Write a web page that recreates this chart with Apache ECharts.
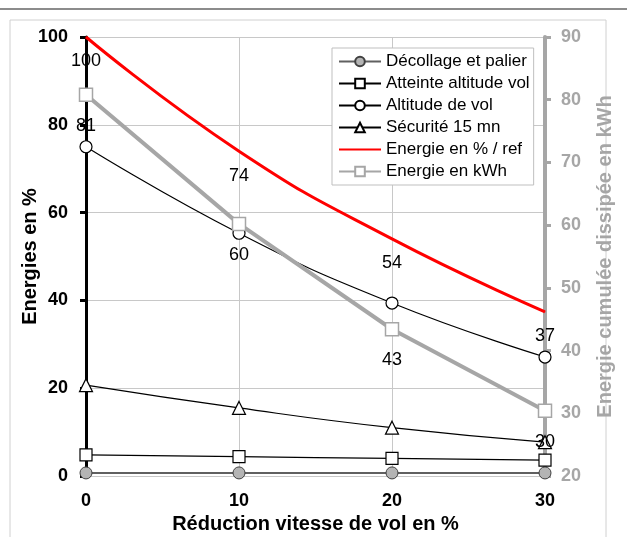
<!DOCTYPE html>
<html>
<head>
<meta charset="utf-8">
<script src="https://cdn.jsdelivr.net/npm/echarts@6/dist/echarts.min.js"></script>
<style>html,body{margin:0;padding:0;background:#fff;}#c{width:627px;height:537px;}</style>
</head>
<body>
<div id="c"></div>
<script>
const reductions = [0, 10, 20, 30];
const decollage = [0.7, 0.7, 0.7, 0.7];
const atteinte = [4.8, 4.4, 4.0, 3.6];
const altitude = [75.0, 55.3, 39.4, 27.1];
const securite = [20.7, 15.5, 11.0, 7.7];
const energiePct = [100, 74, 54, 37.4];
const energieKwh = [80.8, 60.2, 43.4, 30.4];
const leftTicks = [0, 20, 40, 60, 80, 100];
const rightTicks = [20, 30, 40, 50, 60, 70, 80, 90];

const pairs = arr => reductions.map((x, i) => [x, arr[i]]);
const FONT = 'Liberation Sans, Arial, sans-serif';
const GRAY = '#a6a6a6';

const chart = echarts.init(document.getElementById('c'));
chart.setOption({
  animation: false,
  backgroundColor: '#fff',
  textStyle: { fontFamily: FONT },
  graphic: [
    { type: 'rect', shape: { x: 0, y: 8, width: 627, height: 2 }, style: { fill: '#8c8c8c' }, silent: true },
    { type: 'rect', shape: { x: 10, y: 20, width: 596, height: 530 }, style: { fill: 'none', stroke: '#d0d0d0', lineWidth: 1 }, silent: true, z: -1 }
  ],
  grid: { left: 86, right: 82, top: 37, bottom: 61, containLabel: false, outerBoundsMode: 'none' },
  legend: {
    orient: 'vertical',
    left: 332, top: 48,
    backgroundColor: '#fff',
    borderColor: '#bfbfbf', borderWidth: 1,
    padding: [5, 4, 5, 6],
    itemWidth: 42, itemHeight: 12, itemGap: 5,
    textStyle: { fontSize: 17, color: '#000', fontFamily: FONT },
    data: [
      'Décollage et palier', 'Atteinte altitude vol', 'Altitude de vol', 'Sécurité 15 mn',
      { name: 'Energie en % / ref', itemStyle: { opacity: 0 } },
      'Energie en kWh'
    ]
  },
  xAxis: {
    type: 'value', min: 0, max: 30, interval: 10,
    name: 'Réduction vitesse de vol en %', nameLocation: 'middle', nameGap: 36,
    nameTextStyle: { fontSize: 20, fontWeight: 'bold', color: '#000' },
    axisLine: { show: false },
    axisTick: { show: false },
    axisLabel: { fontSize: 18, fontWeight: 'bold', color: '#000', margin: 16 },
    splitLine: { show: true, lineStyle: { color: '#c8c8c8', width: 1 } }
  },
  yAxis: [
    {
      type: 'value', min: 0, max: 100, interval: 20,
      name: 'Energies en %', nameLocation: 'middle', nameGap: 46, nameMoveOverlap: false,
      nameTextStyle: { fontSize: 20, fontWeight: 'bold', color: '#000' },
      axisLine: { show: true, onZero: false, lineStyle: { color: '#000', width: 3 } },
      axisTick: { show: true, length: 6, lineStyle: { color: '#000', width: 3 } },
      axisLabel: { fontSize: 18, fontWeight: 'bold', color: '#000', margin: 18,
        formatter: v => leftTicks.includes(v) ? String(v) : '' },
      splitLine: { show: true, lineStyle: { color: '#c8c8c8', width: 1 } }
    },
    {
      type: 'value', min: 20, max: 90, interval: 10, position: 'right',
      name: 'Energie cumulée dissipée en kWh', nameLocation: 'middle', nameGap: 50,
      nameRotate: 90,
      nameTextStyle: { fontSize: 20, fontWeight: 'bold', color: GRAY },
      axisLine: { show: true, onZero: false, lineStyle: { color: GRAY, width: 4 } },
      axisTick: { show: true, length: 6, lineStyle: { color: GRAY, width: 3 } },
      axisLabel: { fontSize: 18, fontWeight: 'bold', color: GRAY, margin: 16,
        formatter: v => rightTicks.includes(v) ? String(v) : '' },
      splitLine: { show: false }
    }
  ],
  series: [
    {
      name: 'Décollage et palier', type: 'line', data: pairs(decollage), yAxisIndex: 0,
      symbol: 'circle', symbolSize: 12,
      lineStyle: { color: '#606060', width: 2 },
      itemStyle: { color: '#b4b4b4', borderColor: '#404040', borderWidth: 1 }
    },
    {
      name: 'Atteinte altitude vol', type: 'line', data: pairs(atteinte), yAxisIndex: 0,
      symbol: 'rect', symbolSize: 12, smooth: true,
      lineStyle: { color: '#000', width: 1.2 },
      itemStyle: { color: '#fff', borderColor: '#000', borderWidth: 1.2 }
    },
    {
      name: 'Altitude de vol', type: 'line', data: pairs(altitude), yAxisIndex: 0,
      symbol: 'circle', symbolSize: 12, smooth: true,
      lineStyle: { color: '#000', width: 1.2 },
      itemStyle: { color: '#fff', borderColor: '#000', borderWidth: 1.2 }
    },
    {
      name: 'Sécurité 15 mn', type: 'line', data: pairs(securite), yAxisIndex: 0,
      symbol: 'triangle', symbolSize: 13, smooth: true,
      lineStyle: { color: '#000', width: 1.2 },
      itemStyle: { color: '#fff', borderColor: '#000', borderWidth: 1.2 }
    },
    {
      name: 'Energie en % / ref', type: 'line', data: pairs(energiePct), yAxisIndex: 0,
      symbol: 'circle', symbolSize: 1, smooth: true,
      lineStyle: { color: '#ff0000', width: 3 },
      itemStyle: { color: '#ff0000' },
      label: { show: true, position: 'bottom', distance: 15, fontSize: 18, color: '#000',
        formatter: p => Math.round(p.value[1]) }
    },
    {
      name: 'Energie en kWh', type: 'line', data: pairs(energieKwh), yAxisIndex: 1,
      symbol: 'rect', symbolSize: 13,
      lineStyle: { color: GRAY, width: 4 },
      itemStyle: { color: '#fff', borderColor: GRAY, borderWidth: 1.5 },
      label: { show: true, position: 'bottom', distance: 15, fontSize: 18, color: '#000',
        formatter: p => Math.round(p.value[1]) }
    }
  ]
});
</script>
</body>
</html>
